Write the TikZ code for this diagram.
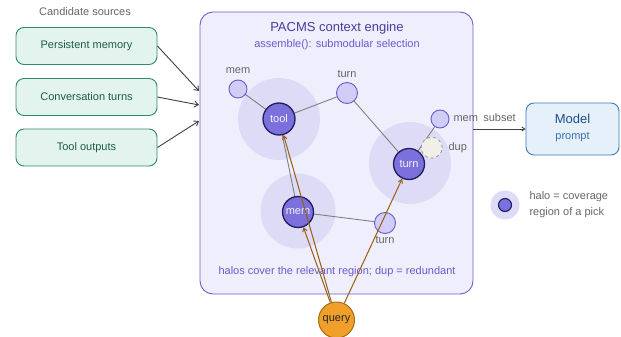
\documentclass[tikz,border=0pt]{standalone}
\usepackage{fontspec}
\setmainfont{Liberation Sans}
\usetikzlibrary{arrows.meta}
\definecolor{srcfill}{HTML}{E2F4ED}
\definecolor{srcdraw}{HTML}{2F8A6C}
\definecolor{srctext}{HTML}{1E5B47}
\definecolor{engfill}{HTML}{EFEEFD}
\definecolor{engdraw}{HTML}{6C5FD0}
\definecolor{titlecol}{HTML}{483D9B}
\definecolor{subcol}{HTML}{6A5ACD}
\definecolor{halocol}{HTML}{DEDBF7}
\definecolor{pickfill}{HTML}{7B70DC}
\definecolor{pickdraw}{HTML}{221D5C}
\definecolor{smallfill}{HTML}{D0CDF6}
\definecolor{smalldraw}{HTML}{6A5ACD}
\definecolor{labgray}{HTML}{666666}
\definecolor{edgegray}{HTML}{808080}
\definecolor{qbrown}{HTML}{9A5F12}
\definecolor{qfill}{HTML}{F0A02A}
\definecolor{qdraw}{HTML}{A86A14}
\definecolor{dupfill}{HTML}{F1F0E8}
\definecolor{dupdraw}{HTML}{A0A0A0}
\definecolor{modfill}{HTML}{E6F0FB}
\definecolor{moddraw}{HTML}{3B7BBF}
\definecolor{modtext}{HTML}{1F4E8C}
\definecolor{modsub}{HTML}{3A70B5}
\definecolor{arrgray}{HTML}{404040}
\tikzset{
  srcbox/.style={draw=srcdraw, fill=srcfill, rounded corners=8pt, minimum width=141pt, minimum height=37pt, text=srctext, line width=0.9pt},
  halo/.style={circle, fill=halocol, inner sep=0pt},
  pick/.style={circle, fill=pickfill, draw=pickdraw, line width=1.3pt, inner sep=0pt, minimum size=31pt, text=white!92!pickfill},
  small/.style={circle, fill=smallfill, draw=smalldraw, line width=0.9pt, inner sep=0pt},
  lab/.style={text=labgray},
  edge/.style={draw=edgegray, line width=0.9pt},
  qarrow/.style={draw=qbrown, line width=1pt, -{Straight Barb[length=3.5pt,width=4.5pt]}},
  sarrow/.style={draw=arrgray, line width=0.9pt, -{Straight Barb[length=4pt,width=6pt]}}
}
\begin{document}
\begin{tikzpicture}[x=1pt,y=-1pt, every node/.style={font=\fontsize{11}{13}\selectfont}]
\useasboundingbox (0,0) rectangle (621,337);
% sources
\node[lab] (cs) at (85,12) {Candidate sources};
\node[srcbox] (pm) at (86.5,46) {Persistent memory};
\node[srcbox] (ct) at (86.5,97) {Conversation turns};
\node[srcbox] (to) at (86.5,147.5) {Tool outputs};
% engine
\node[draw=engdraw, fill=engfill, rounded corners=13pt, minimum width=273pt, minimum height=282pt, line width=0.9pt] (eng) at (336.5,153) {};
\node[text=titlecol, font=\fontsize{13}{15}\selectfont] (title) at (337,28.5) {PACMS context engine};
\node[text=subcol] (sub) at (337,45) {assemble(): submodular selection};
\node[text=subcol] (foot) at (337,272) {halos cover the relevant region; dup = redundant};
\coordinate (e1) at (199,91);
\coordinate (e2) at (199,105);
\coordinate (e3) at (199,121);
\draw[sarrow] (pm.east) -- (e1);
\draw[sarrow] (ct.east) -- (e2);
\draw[sarrow] (to.east) -- (e3);
% halos
\node[halo, minimum size=82pt] (h1) at (279,119) {};
\node[halo, minimum size=82pt] (h2) at (410,163) {};
\node[halo, minimum size=75pt] (h3) at (298,211) {};
% coordinates of nodes
\coordinate (ptool) at (279,119);
\coordinate (pturn) at (409,164);
\coordinate (pmem) at (298,212);
\coordinate (smem1) at (238,89);
\coordinate (sturn1) at (347,93);
\coordinate (smem2) at (440,119);
\coordinate (sturn2) at (385,223);
% edges
\draw[edge] (smem1) -- (ptool);
\draw[edge] (ptool) -- (sturn1);
\draw[edge] (sturn1) -- (pturn);
\draw[edge] (smem2) -- (pturn);
\draw[edge] (ptool) -- (pmem);
\draw[edge] (pmem) -- (sturn2);
% nodes
\node[small, minimum size=18pt] (m1) at (smem1) {};
\node[small, minimum size=21pt] (t1) at (sturn1) {};
\node[small, minimum size=18pt] (m2) at (smem2) {};
\node[small, minimum size=21pt] (t2) at (sturn2) {};
\node[circle, fill=dupfill, draw=dupdraw, dashed, line width=0.9pt, inner sep=0pt, minimum size=21pt] (dup) at (431.7,147.7) {};
\node[pick, minimum size=32pt] (tool) at (ptool) {tool};
\node[pick] (turn) at (pturn) {turn};
\node[pick] (mem) at (pmem) {mem};
% labels
\node[lab] (lm1) at (238,71) {mem};
\node[lab] (lt1) at (347,74) {turn};
\node[lab, anchor=west] (lm2) at (450,119) {mem};
\node[lab, anchor=west] (ldup) at (445,148) {dup};
\node[lab] (lt2) at (385,240) {turn};
% query
\node[circle, fill=qfill, draw=qdraw, line width=1pt, inner sep=0pt, minimum size=36pt, text=black!85] (query) at (336.5,320) {query};
\draw[qarrow] (query) -- (tool);
\draw[qarrow] (query) -- (mem);
\draw[qarrow] (query) -- (turn);
% model
\node[draw=moddraw, fill=modfill, rounded corners=8pt, minimum width=93pt, minimum height=52pt, line width=0.9pt] (model) at (572.5,129) {};
\node[text=modtext, font=\fontsize{13}{15}\selectfont] (mt) at (572.5,119) {Model};
\node[text=modsub] (mp) at (572.5,137) {prompt};
\coordinate (eo) at (eng.east |- model.west);
\draw[draw=arrgray, line width=0.9pt, -{Straight Barb[length=3pt,width=4pt]}] (eo) -- (model.west) node[midway, above, lab, yshift=4pt] (sub2) {subset};
% legend
\node[halo, minimum size=29pt] (lh) at (505,205) {};
\node[circle, fill=pickfill, draw=pickdraw, line width=1.1pt, inner sep=0pt, minimum size=13pt] (ld) at (505,205) {};
\node[lab, anchor=west, align=left, font=\fontsize{11}{16}\selectfont] (lt) at (526,205) {halo = coverage\\region of a pick};
\end{tikzpicture}
\end{document}
